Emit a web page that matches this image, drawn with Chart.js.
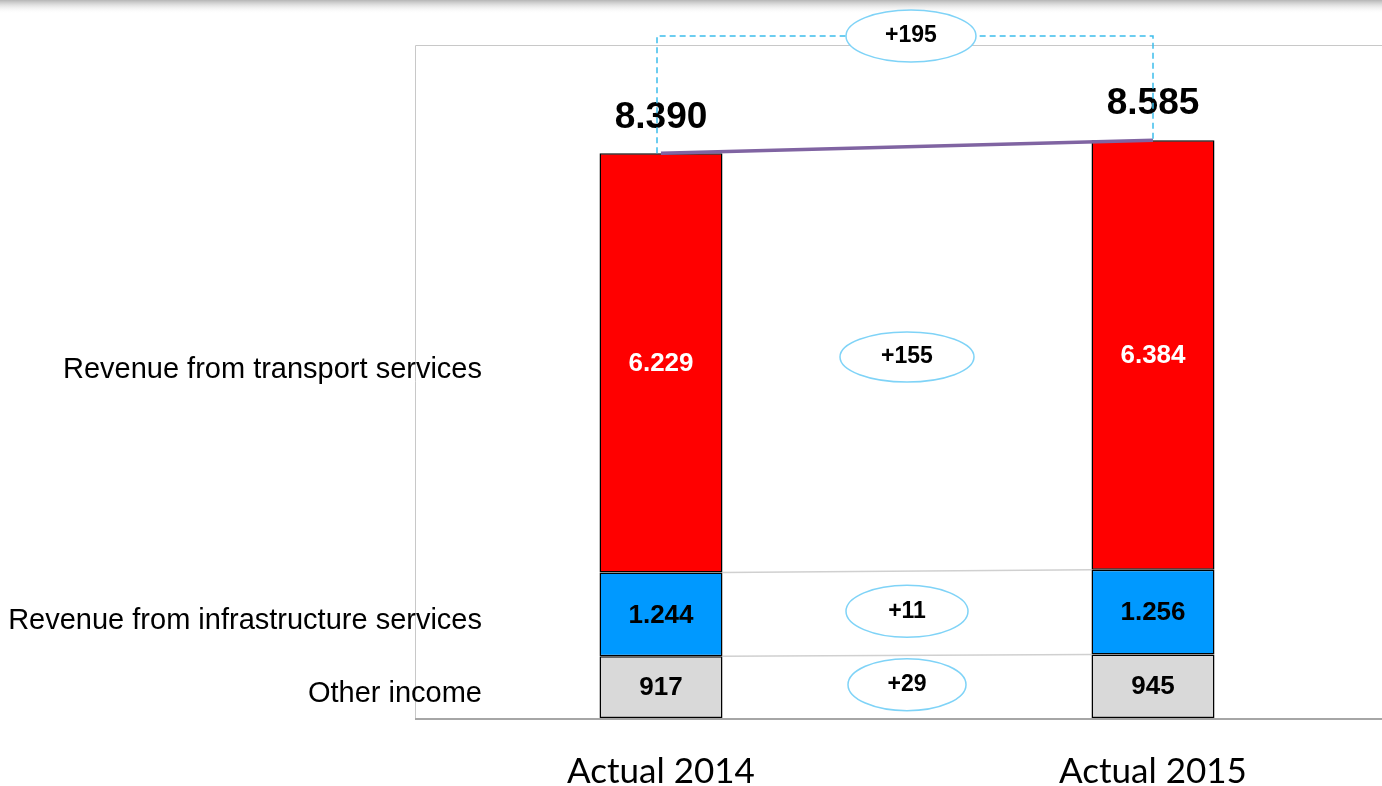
<!DOCTYPE html>
<html>
<head>
<meta charset="utf-8">
<script src="https://cdn.jsdelivr.net/npm/chart.js@4/dist/chart.umd.min.js"></script>
<style>
    html, body { margin: 0; padding: 0; background: #fff; overflow: hidden; }
    #wrap { width: 1400px; height: 786px; }
</style>
</head>
<body>
<div id="wrap"><canvas id="myChart" width="1400" height="786"></canvas></div>
<script>
const categories = ['Actual 2014', 'Actual 2015'];
const seriesNames = ['Other income', 'Revenue from infrastructure services', 'Revenue from transport services'];
const otherIncome = [917, 945];
const infrastructure = [1244, 1256];
const transport = [6229, 6384];
const totals = [8390, 8585];
const deltas = ['+29', '+11', '+155'];
const totalDelta = '+195';

const seriesColors = ['#d9d9d9', '#0099ff', '#ff0000'];
const labelColors = ['#000', '#000', '#fff'];

function fmt(n) {
    return String(n).replace(/\B(?=(\d{3})+(?!\d))/g, '.');
}

function ellipse(ctx, x, y, rx, ry, text) {
    ctx.save();
    ctx.beginPath();
    ctx.ellipse(x, y, rx, ry, 0, 0, Math.PI * 2);
    ctx.fillStyle = '#fff';
    ctx.fill();
    ctx.strokeStyle = '#7fd3f7';
    ctx.lineWidth = 1.5;
    ctx.stroke();
    ctx.fillStyle = '#000';
    ctx.font = 'bold 23px "Liberation Sans", Arial, sans-serif';
    ctx.textAlign = 'center';
    ctx.textBaseline = 'middle';
    ctx.fillText(text, x, y);
    ctx.restore();
}

const decorations = {
    id: 'decorations',
    beforeDraw(chart) {
        // faint shadow band along the top edge
        const ctx = chart.ctx;
        ctx.save();
        const g = ctx.createLinearGradient(0, 0, 0, 14);
        g.addColorStop(0, 'rgba(120,120,120,0.55)');
        g.addColorStop(1, 'rgba(255,255,255,0)');
        ctx.fillStyle = g;
        ctx.fillRect(0, 0, chart.width, 14);
        ctx.restore();
    },
    beforeDatasetsDraw(chart) {
        const ctx = chart.ctx;
        const a = chart.chartArea;
        ctx.save();
        // frame
        ctx.strokeStyle = '#c8c8c8';
        ctx.lineWidth = 1;
        ctx.beginPath();
        ctx.moveTo(a.left + 0.5, a.bottom);
        ctx.lineTo(a.left + 0.5, a.top + 0.5);
        ctx.lineTo(a.right, a.top + 0.5);
        ctx.stroke();
        ctx.strokeStyle = '#a6a6a6';
        ctx.lineWidth = 2;
        ctx.beginPath();
        ctx.moveTo(a.left, a.bottom + 1);
        ctx.lineTo(a.right, a.bottom + 1);
        ctx.stroke();
        // connectors between stack boundaries
        ctx.strokeStyle = '#d0d0d0';
        ctx.lineWidth = 1.5;
        for (let i = 0; i < 2; i++) {
            const b0 = chart.getDatasetMeta(i).data[0];
            const b1 = chart.getDatasetMeta(i).data[1];
            ctx.beginPath();
            ctx.moveTo(b0.x + b0.width / 2, b0.y);
            ctx.lineTo(b1.x - b1.width / 2, b1.y);
            ctx.stroke();
        }
        ctx.restore();
    },
    afterDatasetsDraw(chart) {
        const ctx = chart.ctx;
        const a = chart.chartArea;
        ctx.save();

        // segment value labels
        chart.data.datasets.forEach((ds, i) => {
            chart.getDatasetMeta(i).data.forEach((bar, j) => {
                ctx.fillStyle = labelColors[i];
                ctx.font = 'bold 26px "Liberation Sans", Arial, sans-serif';
                ctx.textAlign = 'center';
                ctx.textBaseline = 'middle';
                ctx.fillText(fmt(ds.data[j]), bar.x, (bar.y + bar.base) / 2 + 1);
            });
        });

        // series names on the left
        ctx.fillStyle = '#000';
        ctx.font = '29px "Liberation Sans", Arial, sans-serif';
        ctx.textAlign = 'right';
        ctx.textBaseline = 'middle';
        chart.data.datasets.forEach((ds, i) => {
            const bar = chart.getDatasetMeta(i).data[0];
            ctx.fillText(ds.label, 482, (bar.y + bar.base) / 2 + 7);
        });

        // category labels
        ctx.font = '35px Lato, "Open Sans", sans-serif';
        ctx.textAlign = 'center';
        chart.getDatasetMeta(0).data.forEach((bar, j) => {
            ctx.fillText(chart.data.labels[j], bar.x, a.bottom + 54);
        });

        // totals line + labels
        const top = chart.getDatasetMeta(2).data;
        const y = chart.scales.y;
        const p0 = { x: top[0].x, y: y.getPixelForValue(totals[0]) };
        const p1 = { x: top[1].x, y: y.getPixelForValue(totals[1]) };
        ctx.strokeStyle = '#8064a2';
        ctx.lineWidth = 3.5;
        ctx.beginPath();
        ctx.moveTo(p0.x, p0.y);
        ctx.lineTo(p1.x, p1.y);
        ctx.stroke();

        ctx.fillStyle = '#000';
        ctx.font = 'bold 37px "Liberation Sans", Arial, sans-serif';
        ctx.textAlign = 'center';
        ctx.textBaseline = 'middle';
        ctx.fillText(fmt(totals[0]), p0.x, p0.y - 36);
        ctx.fillText(fmt(totals[1]), p1.x, p1.y - 36);

        // dashed bracket
        const by = a.top - 9;
        ctx.strokeStyle = '#3cbdec';
        ctx.lineWidth = 1.5;
        ctx.setLineDash([6, 4]);
        ctx.beginPath();
        ctx.moveTo(p0.x - 4, p0.y);
        ctx.lineTo(p0.x - 4, by);
        ctx.lineTo(p1.x, by);
        ctx.lineTo(p1.x, p1.y);
        ctx.stroke();
        ctx.setLineDash([]);
        ctx.restore();

        const midX = (p0.x + p1.x) / 2;
        ellipse(ctx, midX + 4, by, 65, 26, totalDelta);

        // delta ellipses between segments
        const sizes = [[59, 26], [61, 26], [67, 25]];
        deltas.forEach((d, i) => {
            const b0 = chart.getDatasetMeta(i).data[0];
            const b1 = chart.getDatasetMeta(i).data[1];
            const cy = ((b0.y + b0.base) / 2 + (b1.y + b1.base) / 2) / 2 - 2;
            ellipse(ctx, midX, cy, sizes[i][0], sizes[i][1], d);
        });
    }
};

new Chart(document.getElementById('myChart'), {
    type: 'bar',
    data: {
        labels: categories,
        datasets: [otherIncome, infrastructure, transport].map((values, i) => ({
            label: seriesNames[i],
            data: values,
            backgroundColor: seriesColors[i],
            borderColor: '#000',
            borderWidth: 1.5,
            borderSkipped: false,
            barPercentage: 0.25,
            categoryPercentage: 1
        }))
    },
    options: {
        responsive: false,
        animation: false,
        devicePixelRatio: 1,
        layout: { padding: { left: 415, top: 45, right: 1, bottom: 68 } },
        plugins: {
            legend: { display: false },
            tooltip: { enabled: false }
        },
        scales: {
            x: {
                stacked: true,
                display: false
            },
            y: {
                stacked: true,
                display: false,
                min: 0,
                max: 10000
            }
        }
    },
    plugins: [decorations]
});
</script>
</body>
</html>
